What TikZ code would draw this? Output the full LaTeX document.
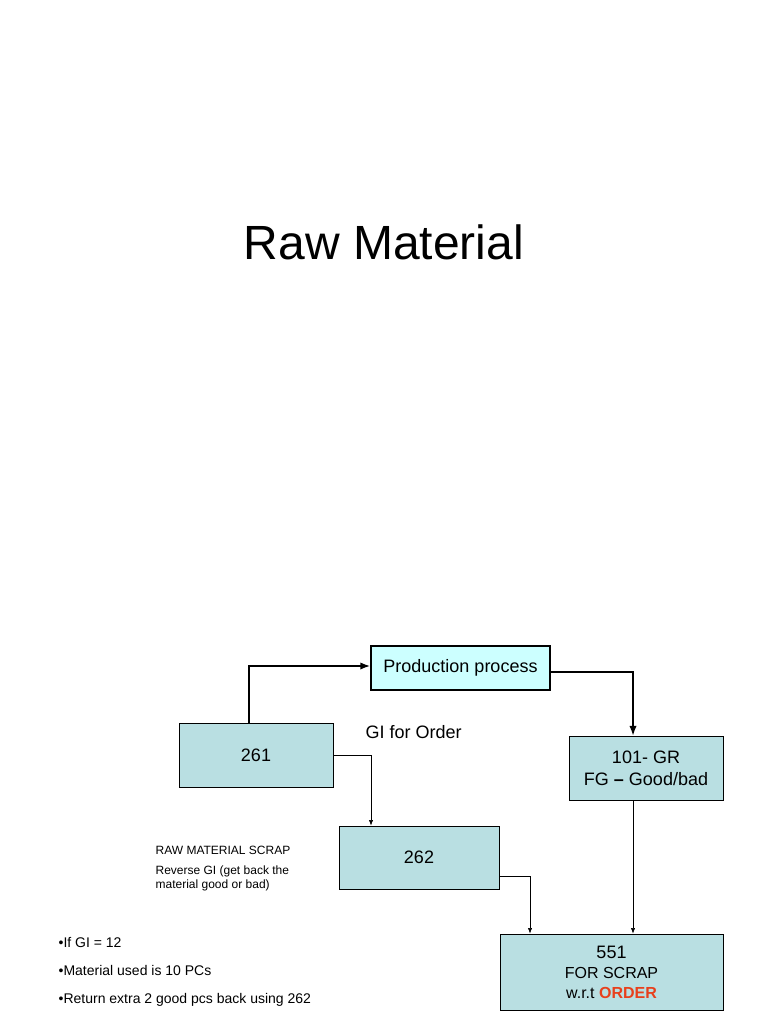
\documentclass[tikz,border=0pt]{standalone}
\usepackage{fontspec}
\setmainfont{Liberation Sans}
\usetikzlibrary{arrows.meta}
\usetikzlibrary{positioning}
\definecolor{boxfill}{HTML}{B9DFE2}
\definecolor{procfill}{HTML}{CCFFFF}
\definecolor{ordred}{HTML}{E8401C}
\begin{document}
\begin{tikzpicture}[
				x=1pt, y=-1pt,
				line width=0.6pt,
				box/.style={draw, fill=boxfill, inner sep=0pt, align=center, font=\fontsize{18}{22}\selectfont},
				arrow/.style={-Latex},
				thickarrow/.style={line width=1.5pt, -Latex},
			]
				\useasboundingbox (0,0) rectangle (768,1024);
				\node (title) at (384,242) {\fontsize{48}{56}\selectfont Raw Material};
				\node (prod) [box, fill=procfill, line width=1.8pt, minimum width=179pt, minimum height=44pt] at (460.5,668) {Production process};
				\node (gr261) [box, minimum width=154pt, minimum height=64pt] at (256,755) {261};
				\node (gr101) [box, minimum width=154pt, minimum height=64pt] at (646,768) {101- GR\\FG \textbf{--} Good/bad};
				\node (gr262) [box, minimum width=160pt, minimum height=63pt] at (419,857.5) {262};
				\node (gr551) [box, minimum width=223pt, minimum height=76pt] at (611.5,972) {551\\[-2pt]{\fontsize{16}{19}\selectfont FOR SCRAP}\\[-2pt]{\fontsize{16}{19}\selectfont w.r.t \textcolor{ordred}{\textbf{ORDER}}}};
				\node (gilabel) [anchor=west, font=\fontsize{18}{22}\selectfont] at (362,732) {GI for Order};
				\node (scrap) [anchor=north west, align=left, font=\fontsize{12}{14}\selectfont] at (152,842) {RAW MATERIAL SCRAP\\[6pt]Reverse GI (get back the\\material good or bad)};
				\node (bullets) [anchor=north west, align=left, font=\fontsize{14}{28}\selectfont] at (55,934) {•If GI = 12\\•Material used is 10 PCs\\•Return extra 2 good pcs back using 262};

				\coordinate (c1) at (249,666);
				\coordinate (c2) at (633,672);
				\coordinate (c3) at (371,755);
				\coordinate (c4) at (530,876);
				\draw[thickarrow] ([xshift=-7pt]gr261.north) -- (c1) -- (c1 -| prod.west);
				\draw[thickarrow] (prod.east |- c2) -- (c2) -- (c2 |- gr101.north);
				\draw[arrow] (gr261.east) -- (c3) -- (c3 |- gr262.north);
				\draw[arrow] (gr262.east |- c4) -- (c4) -- (c4 |- gr551.north);
				\draw[arrow] (c2 |- gr101.south) -- (c2 |- gr551.north);
			\end{tikzpicture}
\end{document}
